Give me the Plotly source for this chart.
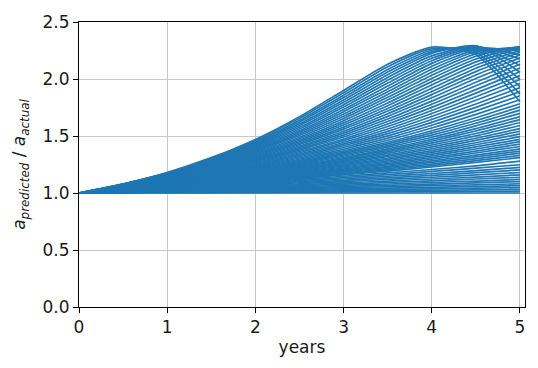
import plotly.graph_objects as go

# time axis (years)
t_years = [0.0, 0.5, 1.0, 1.5, 2.0, 2.5, 3.0, 3.5, 4.0, 4.5, 5.0]

# dense bundle of slowly growing curves (bottom band)
low_group = [
    [1.000, 1.000, 1.000, 1.000, 1.000, 1.000, 1.000, 1.000, 1.000, 1.000, 1.000],
    [1.000, 1.001, 1.003, 1.004, 1.006, 1.007, 1.009, 1.010, 1.012, 1.013, 1.015],
    [1.000, 1.003, 1.006, 1.009, 1.012, 1.015, 1.018, 1.021, 1.024, 1.027, 1.030],
    [1.000, 1.004, 1.009, 1.013, 1.018, 1.023, 1.027, 1.032, 1.037, 1.042, 1.047],
    [1.000, 1.006, 1.012, 1.018, 1.024, 1.030, 1.037, 1.043, 1.050, 1.057, 1.064],
    [1.000, 1.007, 1.015, 1.023, 1.030, 1.038, 1.047, 1.055, 1.064, 1.072, 1.081],
    [1.000, 1.009, 1.018, 1.027, 1.037, 1.047, 1.057, 1.067, 1.078, 1.088, 1.100],
    [1.000, 1.010, 1.021, 1.032, 1.043, 1.055, 1.067, 1.079, 1.092, 1.105, 1.119],
    [1.000, 1.012, 1.024, 1.037, 1.050, 1.064, 1.078, 1.092, 1.107, 1.123, 1.138],
    [1.000, 1.013, 1.027, 1.042, 1.057, 1.072, 1.088, 1.105, 1.123, 1.140, 1.159],
    [1.000, 1.015, 1.030, 1.047, 1.064, 1.081, 1.100, 1.119, 1.138, 1.159, 1.180],
    [1.000, 1.016, 1.034, 1.052, 1.071, 1.090, 1.111, 1.132, 1.155, 1.178, 1.202],
    [1.000, 1.018, 1.037, 1.057, 1.078, 1.100, 1.123, 1.147, 1.171, 1.197, 1.224],
    [1.000, 1.019, 1.040, 1.062, 1.085, 1.109, 1.134, 1.161, 1.189, 1.218, 1.248],
    [1.000, 1.021, 1.043, 1.067, 1.092, 1.119, 1.147, 1.176, 1.206, 1.238, 1.280],
]

# middle curves, visibly separated
mid_group = [
    [1.000, 1.023, 1.047, 1.072, 1.100, 1.127, 1.159, 1.192, 1.228, 1.268, 1.310],
    [1.000, 1.024, 1.049, 1.076, 1.105, 1.134, 1.167, 1.203, 1.241, 1.284, 1.330],
    [1.000, 1.025, 1.051, 1.079, 1.109, 1.140, 1.175, 1.213, 1.254, 1.300, 1.349],
    [1.000, 1.026, 1.053, 1.082, 1.114, 1.147, 1.184, 1.224, 1.268, 1.317, 1.368],
    [1.000, 1.027, 1.055, 1.085, 1.118, 1.154, 1.192, 1.234, 1.282, 1.333, 1.387],
    [1.000, 1.028, 1.057, 1.089, 1.123, 1.161, 1.201, 1.246, 1.296, 1.351, 1.408],
    [1.000, 1.028, 1.059, 1.092, 1.127, 1.167, 1.210, 1.258, 1.310, 1.368, 1.429],
    [1.000, 1.029, 1.061, 1.096, 1.133, 1.174, 1.219, 1.270, 1.326, 1.386, 1.450],
    [1.000, 1.030, 1.063, 1.099, 1.138, 1.180, 1.228, 1.282, 1.341, 1.404, 1.470],
    [1.000, 1.031, 1.065, 1.103, 1.143, 1.188, 1.238, 1.295, 1.357, 1.423, 1.494],
    [1.000, 1.032, 1.067, 1.106, 1.148, 1.195, 1.247, 1.307, 1.372, 1.441, 1.518],
    [1.000, 1.033, 1.070, 1.110, 1.154, 1.203, 1.258, 1.320, 1.388, 1.461, 1.542],
    [1.000, 1.034, 1.072, 1.113, 1.159, 1.210, 1.268, 1.333, 1.404, 1.480, 1.565],
    [1.000, 1.035, 1.074, 1.117, 1.164, 1.218, 1.279, 1.347, 1.421, 1.501, 1.592],
    [1.000, 1.036, 1.076, 1.120, 1.169, 1.225, 1.289, 1.360, 1.437, 1.522, 1.618],
    [1.000, 1.037, 1.078, 1.124, 1.175, 1.233, 1.300, 1.374, 1.454, 1.544, 1.644],
    [1.000, 1.038, 1.080, 1.127, 1.180, 1.240, 1.310, 1.387, 1.470, 1.565, 1.670],
    [1.000, 1.039, 1.083, 1.131, 1.186, 1.249, 1.322, 1.402, 1.489, 1.589, 1.699],
    [1.000, 1.040, 1.085, 1.135, 1.192, 1.258, 1.333, 1.416, 1.508, 1.612, 1.727],
    [1.000, 1.041, 1.087, 1.139, 1.198, 1.267, 1.345, 1.431, 1.527, 1.636, 1.755],
    [1.000, 1.042, 1.089, 1.143, 1.204, 1.275, 1.356, 1.445, 1.546, 1.660, 1.783],
]

# fast-growing curves that saturate near 2.3 and partly turn over
upper_group = [
    [1.000, 1.044, 1.092, 1.148, 1.211, 1.286, 1.370, 1.463, 1.570, 1.690, 1.818],
    [1.000, 1.045, 1.095, 1.152, 1.218, 1.296, 1.384, 1.481, 1.594, 1.720, 1.853],
    [1.000, 1.046, 1.098, 1.157, 1.226, 1.307, 1.399, 1.501, 1.620, 1.751, 1.889],
    [1.000, 1.047, 1.101, 1.162, 1.233, 1.318, 1.414, 1.521, 1.645, 1.781, 1.924],
    [1.000, 1.049, 1.104, 1.167, 1.241, 1.330, 1.429, 1.541, 1.671, 1.813, 1.960],
    [1.000, 1.050, 1.106, 1.172, 1.248, 1.341, 1.443, 1.561, 1.697, 1.844, 1.996],
    [1.000, 1.051, 1.109, 1.177, 1.257, 1.353, 1.459, 1.583, 1.724, 1.876, 2.030],
    [1.000, 1.052, 1.112, 1.181, 1.265, 1.364, 1.474, 1.605, 1.751, 1.907, 2.064],
    [1.000, 1.054, 1.115, 1.187, 1.274, 1.376, 1.491, 1.627, 1.779, 1.940, 2.097],
    [1.000, 1.055, 1.118, 1.192, 1.282, 1.387, 1.508, 1.649, 1.806, 1.972, 2.130],
    [1.000, 1.056, 1.121, 1.198, 1.291, 1.400, 1.525, 1.672, 1.835, 2.004, 2.158],
    [1.000, 1.057, 1.123, 1.203, 1.299, 1.412, 1.542, 1.695, 1.863, 2.035, 2.185],
    [1.000, 1.059, 1.126, 1.209, 1.308, 1.425, 1.560, 1.719, 1.891, 2.065, 2.210],
    [1.000, 1.060, 1.129, 1.214, 1.316, 1.437, 1.578, 1.742, 1.919, 2.095, 2.234],
    [1.000, 1.061, 1.132, 1.219, 1.326, 1.450, 1.597, 1.766, 1.948, 2.123, 2.251],
    [1.000, 1.062, 1.135, 1.224, 1.335, 1.462, 1.615, 1.790, 1.977, 2.150, 2.268],
    [1.000, 1.064, 1.139, 1.230, 1.344, 1.476, 1.634, 1.815, 2.005, 2.175, 2.277],
    [1.000, 1.065, 1.142, 1.235, 1.353, 1.489, 1.653, 1.839, 2.033, 2.200, 2.285],
    [1.000, 1.066, 1.145, 1.241, 1.363, 1.504, 1.673, 1.864, 2.060, 2.220, 2.283],
    [1.000, 1.067, 1.148, 1.247, 1.372, 1.518, 1.693, 1.888, 2.086, 2.239, 2.280],
    [1.000, 1.069, 1.152, 1.254, 1.381, 1.532, 1.713, 1.913, 2.112, 2.255, 2.263],
    [1.000, 1.070, 1.155, 1.260, 1.390, 1.546, 1.733, 1.938, 2.137, 2.271, 2.246],
    [1.000, 1.071, 1.158, 1.266, 1.400, 1.561, 1.754, 1.964, 2.160, 2.278, 2.211],
    [1.000, 1.072, 1.161, 1.272, 1.410, 1.576, 1.774, 1.989, 2.182, 2.285, 2.176],
    [1.000, 1.074, 1.164, 1.279, 1.420, 1.592, 1.795, 2.014, 2.203, 2.288, 2.118],
    [1.000, 1.075, 1.167, 1.285, 1.430, 1.607, 1.816, 2.038, 2.224, 2.291, 2.059],
    [1.000, 1.076, 1.171, 1.291, 1.440, 1.623, 1.837, 2.061, 2.238, 2.274, 1.996],
    [1.000, 1.077, 1.174, 1.297, 1.450, 1.639, 1.858, 2.084, 2.252, 2.257, 1.932],
    [1.000, 1.079, 1.177, 1.304, 1.460, 1.655, 1.879, 2.107, 2.266, 2.236, 1.866],
    [1.000, 1.080, 1.180, 1.310, 1.470, 1.670, 1.900, 2.130, 2.280, 2.215, 1.800],
]

x_ticks = [0, 1, 2, 3, 4, 5]
y_ticks = [0.0, 0.5, 1.0, 1.5, 2.0, 2.5]
y_tick_text = ["0.0", "0.5", "1.0", "1.5", "2.0", "2.5"]

line_color = "#1f77b4"

fig = go.Figure()
for series in low_group + mid_group + upper_group:
    fig.add_trace(go.Scatter(
        x=t_years, y=series, mode="lines",
        line=dict(color=line_color, width=1.7, shape="spline", smoothing=0.6),
        showlegend=False, hoverinfo="skip",
    ))

font = dict(family="DejaVu Sans", size=17, color="#1a1a1a")
fig.update_layout(
    width=538, height=368,
    margin=dict(l=79, r=13, t=16, b=61),
    paper_bgcolor="white", plot_bgcolor="white",
    font=font,
    showlegend=False,
)
fig.update_xaxes(
    range=[0, 5.057], tickvals=x_ticks, ticktext=[str(v) for v in x_ticks],
    showgrid=True, gridcolor="#c8c8c8", gridwidth=1,
    showline=True, linecolor="black", linewidth=1, mirror=True,
    ticks="outside", ticklen=5, tickcolor="black", tickwidth=1,
    zeroline=False, tickfont=font,
    title=dict(text="years", font=font, standoff=4),
)
fig.update_yaxes(
    range=[0, 2.5], tickvals=y_ticks, ticktext=y_tick_text,
    showgrid=True, gridcolor="#c8c8c8", gridwidth=1,
    showline=True, linecolor="black", linewidth=1, mirror=True,
    ticks="outside", ticklen=5, tickcolor="black", tickwidth=1,
    zeroline=False, tickfont=font,
    title=dict(text="<i>a</i><sub><i>predicted</i></sub> / <i>a</i><sub><i>actual</i></sub>",
               font=font, standoff=12),
)

fig.write_html("out.html")
